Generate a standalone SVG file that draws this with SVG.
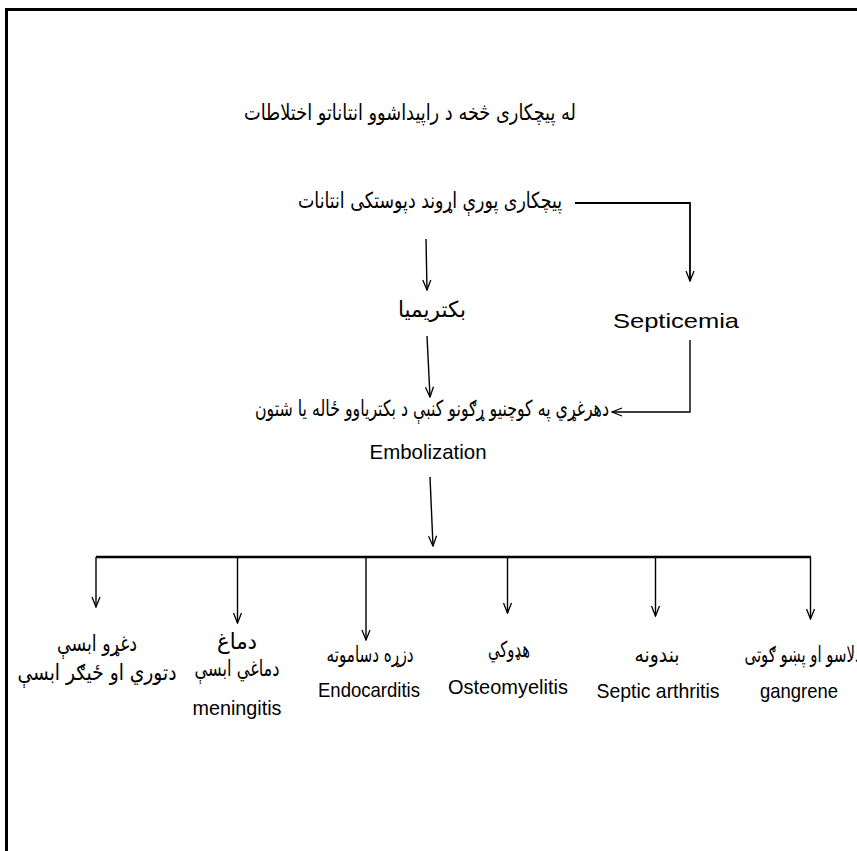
<svg xmlns="http://www.w3.org/2000/svg" width="857" height="851" viewBox="0 0 857 851">
<style>
.ar{font-family:"DejaVu Sans",sans-serif;font-size:22px;direction:rtl;text-anchor:middle;fill:#000}
.en{font-family:"Liberation Sans",sans-serif;font-size:21px;text-anchor:middle;fill:#000}
.c{fill:none;stroke:#000;stroke-width:1.4}
.bus{fill:none;stroke:#000;stroke-width:2.6}
</style>
<defs>
<marker id="ah" viewBox="-11 -5 12 10" refX="0" refY="0" markerWidth="12" markerHeight="10" markerUnits="userSpaceOnUse" orient="auto">
<path d="M-10,-4 L0,0 L-10,4" fill="none" stroke="#000" stroke-width="1.3"/>
</marker>
</defs>
<rect x="0" y="0" width="857" height="851" fill="#fff"/>
<rect x="6.5" y="9.5" width="900" height="900" fill="none" stroke="#000" stroke-width="3"/>
<g id="connectors">
<polyline class="c" points="575,203 690,203 690,281" style="stroke-width:1.8" marker-end="url(#ah)"/>
<line class="c" x1="426" y1="239" x2="427" y2="290" marker-end="url(#ah)"/>
<line class="c" x1="427" y1="336" x2="430" y2="397" marker-end="url(#ah)"/>
<polyline class="c" points="690,340 690,412 612,412" marker-end="url(#ah)"/>
<line class="c" x1="430" y1="477" x2="433" y2="546" marker-end="url(#ah)"/>
<line class="bus" x1="96" y1="557" x2="811" y2="557"/>
<line class="c" x1="96" y1="557" x2="96" y2="607" marker-end="url(#ah)"/>
<line class="c" x1="237.5" y1="557" x2="237.5" y2="623" marker-end="url(#ah)"/>
<line class="c" x1="366" y1="557" x2="366" y2="640" marker-end="url(#ah)"/>
<line class="c" x1="507.5" y1="557" x2="507.5" y2="613" marker-end="url(#ah)"/>
<line class="c" x1="655.5" y1="557" x2="655.5" y2="616" marker-end="url(#ah)"/>
<line class="c" x1="810.5" y1="557" x2="810.5" y2="619" marker-end="url(#ah)"/>
</g>
<g id="title"><text class="ar" x="410" y="120" textLength="332" lengthAdjust="spacingAndGlyphs">له پیچکاری څخه د راپیداشوو انتاناتو اختلاطات</text></g>
<g id="n-skin"><text class="ar" x="430" y="208" textLength="264" lengthAdjust="spacingAndGlyphs">پیچکاری پورې اړوند دپوستکی انتانات</text></g>
<g id="n-bacteremia"><text class="ar" x="432" y="317" textLength="68" lengthAdjust="spacingAndGlyphs">بکتریمیا</text></g>
<g id="n-septicemia"><text class="en" x="676" y="328" textLength="126" lengthAdjust="spacingAndGlyphs">Septicemia</text></g>
<g id="n-embolization">
<text class="ar" x="432" y="416" textLength="354" lengthAdjust="spacingAndGlyphs">دهرغړي په کوچنیو ړګونو کنبې د بکتریاوو ځاله یا شتون</text>
<text class="en" x="428" y="459" textLength="117" lengthAdjust="spacingAndGlyphs">Embolization</text>
</g>
<g id="n-abscess">
<text class="ar" x="97" y="651" textLength="80" lengthAdjust="spacingAndGlyphs">دغړو ابسې</text>
<text class="ar" x="97" y="680" textLength="159" lengthAdjust="spacingAndGlyphs">دتوري او ځیګر ابسې</text>
</g>
<g id="n-brain">
<text class="ar" x="237" y="649" textLength="40" lengthAdjust="spacingAndGlyphs">دماغ</text>
<text class="ar" x="237" y="676" textLength="85" lengthAdjust="spacingAndGlyphs">دماغي ابسې</text>
<text class="en" x="237" y="715" textLength="89" lengthAdjust="spacingAndGlyphs">meningitis</text>
</g>
<g id="n-heart">
<text class="ar" x="370" y="662" textLength="87" lengthAdjust="spacingAndGlyphs">دزړه دساموته</text>
<text class="en" x="369" y="697" textLength="102" lengthAdjust="spacingAndGlyphs">Endocarditis</text>
</g>
<g id="n-bone">
<text class="ar" x="509" y="657" textLength="42" lengthAdjust="spacingAndGlyphs">هډوکي</text>
<text class="en" x="508" y="694" textLength="120" lengthAdjust="spacingAndGlyphs">Osteomyelitis</text>
</g>
<g id="n-joints">
<text class="ar" x="657" y="662" textLength="45" lengthAdjust="spacingAndGlyphs">بندونه</text>
<text class="en" x="658" y="698" textLength="123" lengthAdjust="spacingAndGlyphs">Septic arthritis</text>
</g>
<g id="n-fingers">
<text class="ar" x="803" y="662" textLength="117" lengthAdjust="spacingAndGlyphs">دلاسو او پښو ګوتی</text>
<text class="en" x="799" y="698" textLength="78" lengthAdjust="spacingAndGlyphs">gangrene</text>
</g>
</svg>
